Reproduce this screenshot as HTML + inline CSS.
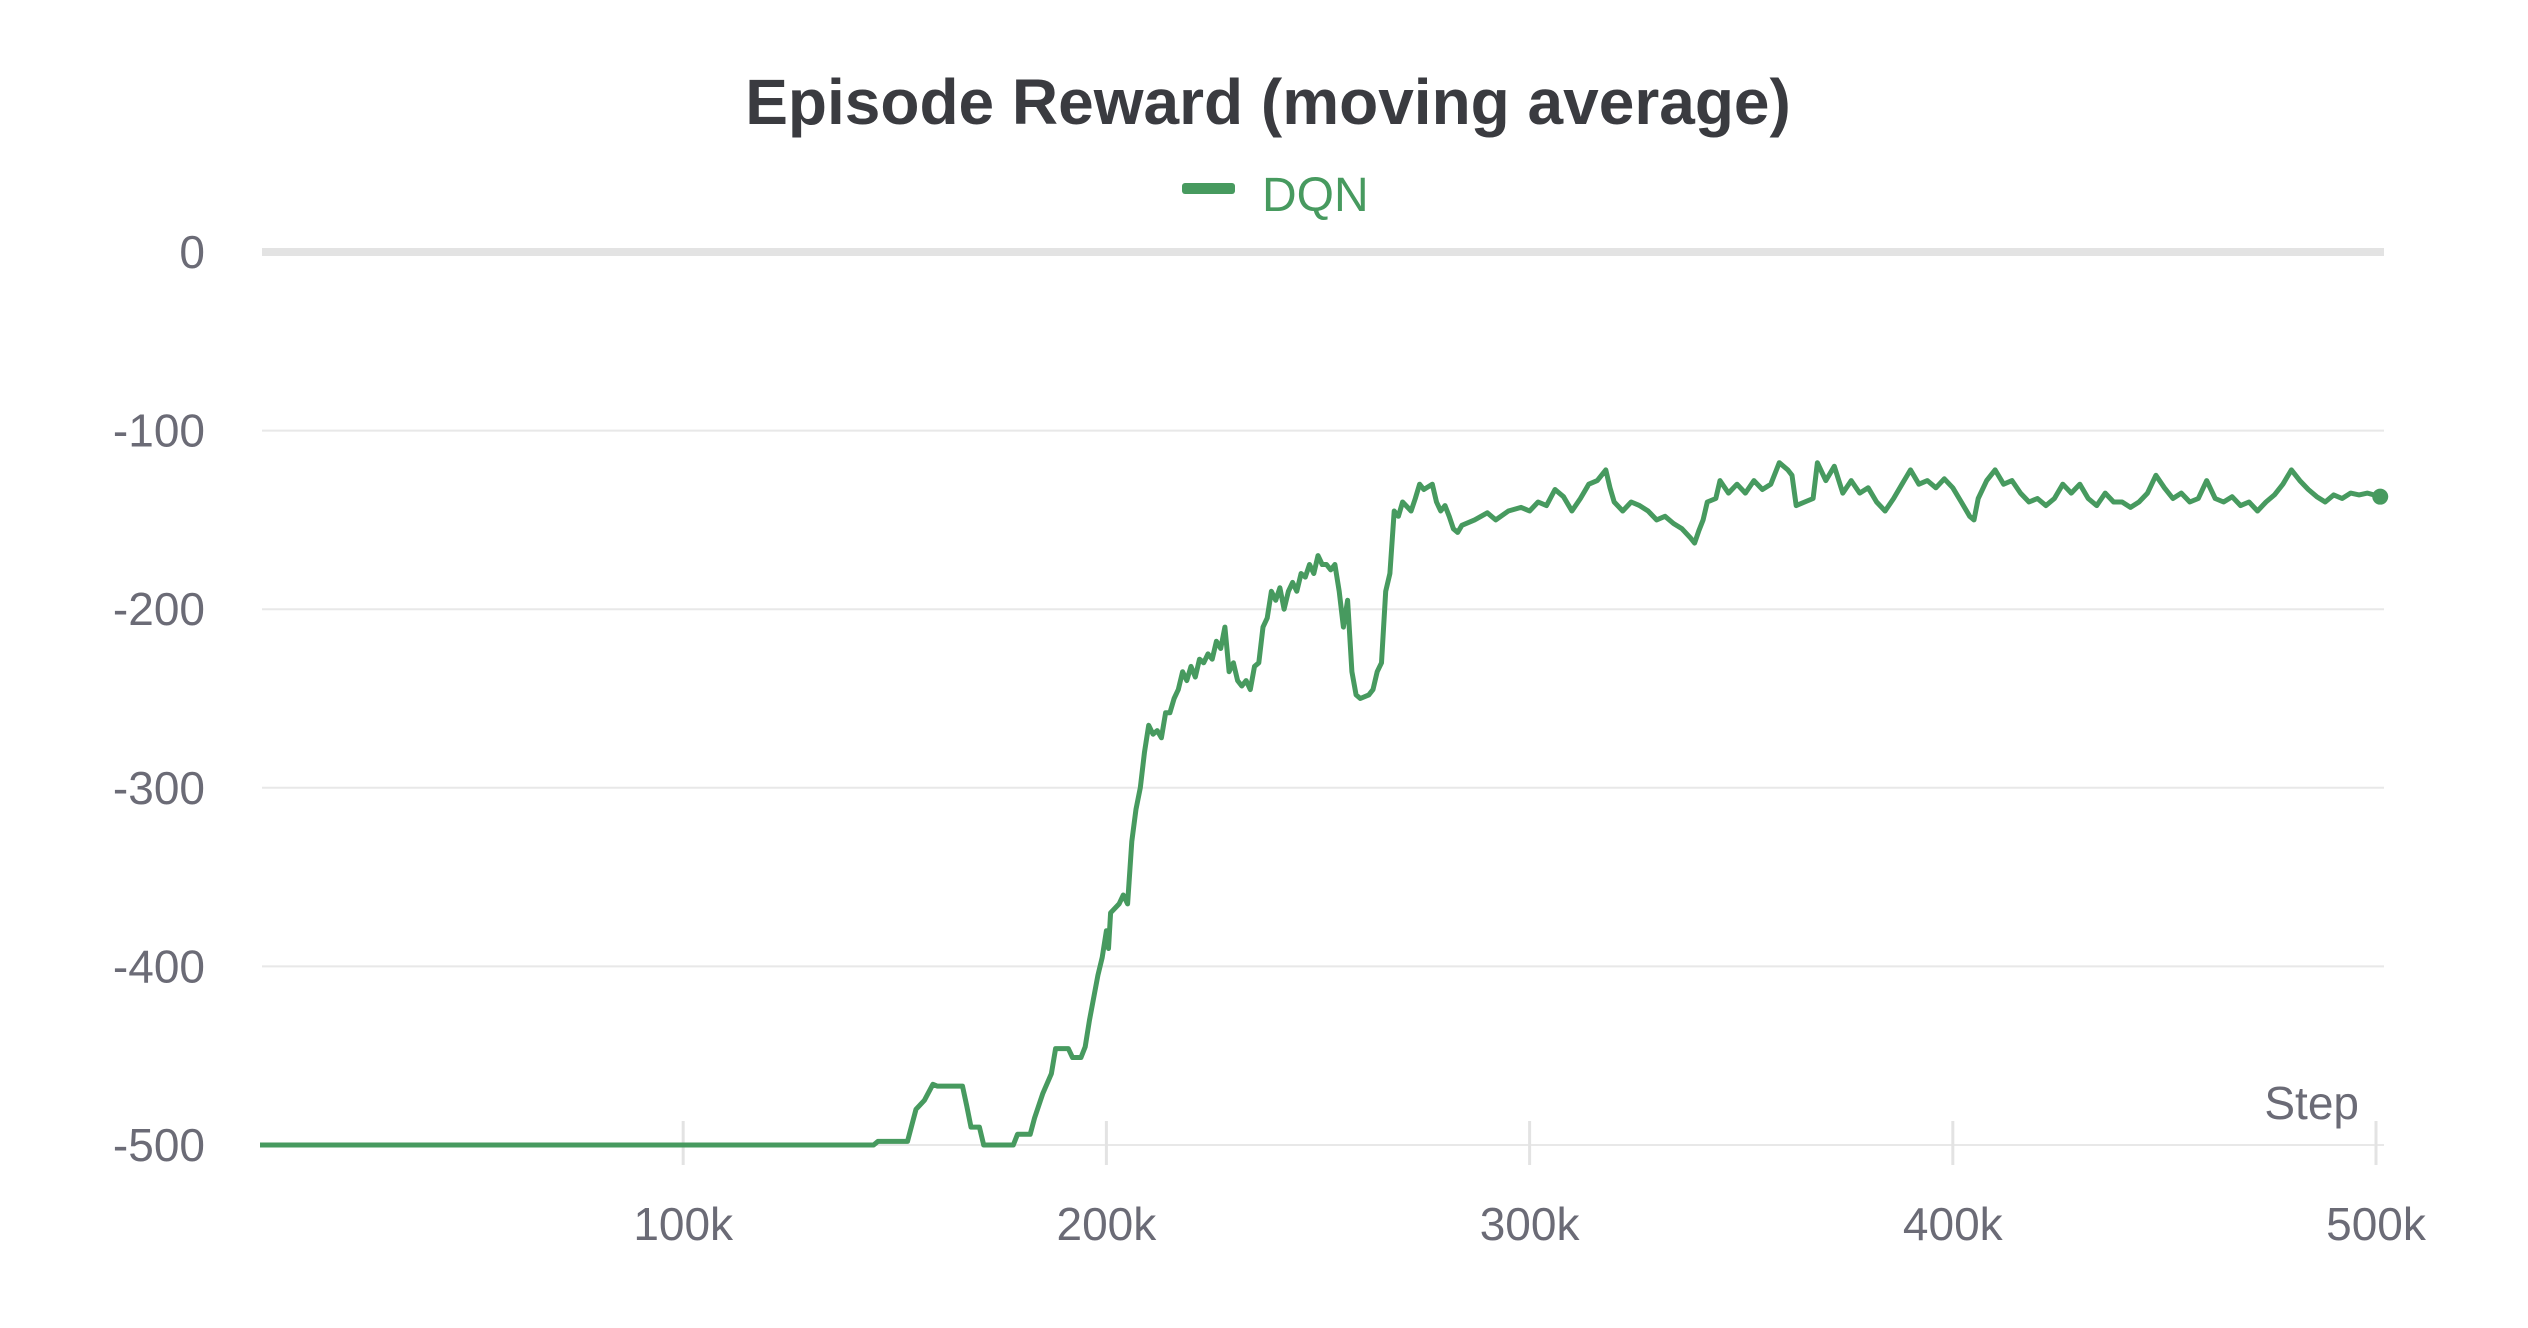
<!DOCTYPE html>
<html><head><meta charset="utf-8">
<style>
html,body{margin:0;padding:0;background:#fff;}
svg{display:block;font-family:"Liberation Sans",sans-serif;}
</style></head>
<body>
<svg id="chart" width="2528" height="1328" viewBox="0 0 2528 1328" xmlns="http://www.w3.org/2000/svg">
<text x="1268" y="124" text-anchor="middle" font-size="64" font-weight="bold" fill="#3a3b40">Episode Reward (moving average)</text>
<g>
<rect x="1182" y="183" width="53" height="11" rx="3" fill="#479a5f"/>
<text x="1262" y="211" font-size="48" fill="#479a5f">DQN</text>
</g>
<g id="grid"></g>
<g id="yticks"></g>
<g id="xticks"></g>
<text x="2359" y="1119" text-anchor="end" font-size="46" fill="#6b6b76">Step</text>
<g id="series"></g>
</svg>
<script>
const stepsK=[0,145,146,153,155,157,159,160,166,167,168,170,171,178,179,182,183,185,187,188,191,192,194,195,196,198,199,200,200.5,201,203,204,205,206,207,208,209,210,211,212,213,214,215,216,217,218,219,220,221,222,223,224,225,226,227,228,229,230,231,232,233,234,235,236,237,238,239,240,241,242,243,244,245,246,247,248,249,250,251,252,253,254,255,256,257,258,259,260,262,263,264,265,266,267,268,269,270,272,273,274,275,277,278,279,280,281,282,283,284,287,290,292,295,298,300,302,304,306,308,310,312,314,316,318,319,320,322,324,326,328,330,332,334,336,338,339,340,341,342,344,345,347,349,351,353,355,357,359,361,362,363,365,367,368,370,372,374,376,378,380,382,384,386,388,390,392,394,396,398,400,402,404,405,406,408,410,412,414,416,418,420,422,424,426,428,430,432,434,436,438,440,442,444,446,448,450,452,454,456,458,460,462,464,466,468,470,472,474,476,478,480,482,484,486,488,490,492,494,496,498,501];
const rewards=[-500,-500,-498,-498,-480,-475,-466,-467,-467,-478,-490,-490,-500,-500,-494,-494,-485,-471,-460,-446,-446,-451,-451,-445,-430,-405,-395,-380,-390,-370,-365,-360,-365,-330,-312,-300,-280,-265,-270,-268,-272,-258,-258,-250,-245,-235,-240,-232,-238,-228,-230,-225,-228,-218,-222,-210,-235,-230,-240,-243,-240,-245,-232,-230,-210,-205,-190,-195,-188,-200,-190,-185,-190,-180,-182,-175,-180,-170,-175,-175,-178,-175,-190,-210,-195,-235,-248,-250,-248,-245,-235,-230,-190,-180,-145,-148,-140,-145,-138,-130,-133,-130,-140,-145,-142,-148,-155,-157,-153,-150,-146,-150,-145,-143,-145,-140,-142,-133,-137,-145,-138,-130,-128,-122,-132,-140,-145,-140,-142,-145,-150,-148,-152,-155,-160,-163,-156,-150,-140,-138,-128,-135,-130,-135,-128,-133,-130,-118,-122,-125,-142,-140,-138,-118,-128,-120,-135,-128,-135,-132,-140,-145,-138,-130,-122,-130,-128,-132,-127,-132,-140,-148,-150,-138,-128,-122,-130,-128,-135,-140,-138,-142,-138,-130,-135,-130,-138,-142,-135,-140,-140,-143,-140,-135,-125,-132,-138,-135,-140,-138,-128,-138,-140,-137,-142,-140,-145,-140,-136,-130,-122,-128,-133,-137,-140,-136,-138,-135,-136,-135,-137];
const yTicks=[0,-100,-200,-300,-400,-500];
const xTicksK=[100,200,300,400,500];
const NS="http://www.w3.org/2000/svg";
const X=k=>260+(k/500)*(2376-260);
const Y=v=>252+(-v/500)*(1145-252);
function mk(tag,attrs,parent){const e=document.createElementNS(NS,tag);for(const a in attrs)e.setAttribute(a,attrs[a]);parent.appendChild(e);return e;}
const grid=document.getElementById('grid'),yt=document.getElementById('yticks'),xt=document.getElementById('xticks'),ser=document.getElementById('series');
yTicks.forEach(v=>{
  const l=mk('line',{x1:262,x2:2384,y1:Y(v),y2:Y(v),stroke:v===0?'#e3e3e3':'#e8e8e8','stroke-width':v===0?8:2},grid);
  
  
  const t=mk('text',{x:205,y:Y(v)+16,'text-anchor':'end','font-size':46,fill:'#6b6b76'},yt);
  t.textContent=String(v);
  
  
});
xTicksK.forEach(k=>{
  const l=mk('line',{x1:X(k),x2:X(k),y1:1121,y2:1165,stroke:'#e3e3e3','stroke-width':3},xt);
  
  
  const t=mk('text',{x:X(k),y:1240,'text-anchor':'middle','font-size':46,fill:'#6b6b76'},xt);
  t.textContent=k+'k';
  
  
});
let d='';
stepsK.forEach((k,i)=>{d+=(i?'L':'M')+X(k).toFixed(1)+' '+Y(rewards[i]).toFixed(1);});
const p=mk('path',{d:d,fill:'none',stroke:'#479a5f','stroke-width':5,'stroke-linejoin':'round'},ser);


const n=stepsK.length-1;
const c=mk('circle',{cx:X(stepsK[n]),cy:Y(rewards[n]),r:8,fill:'#479a5f'},ser);


</script>
</body></html>
